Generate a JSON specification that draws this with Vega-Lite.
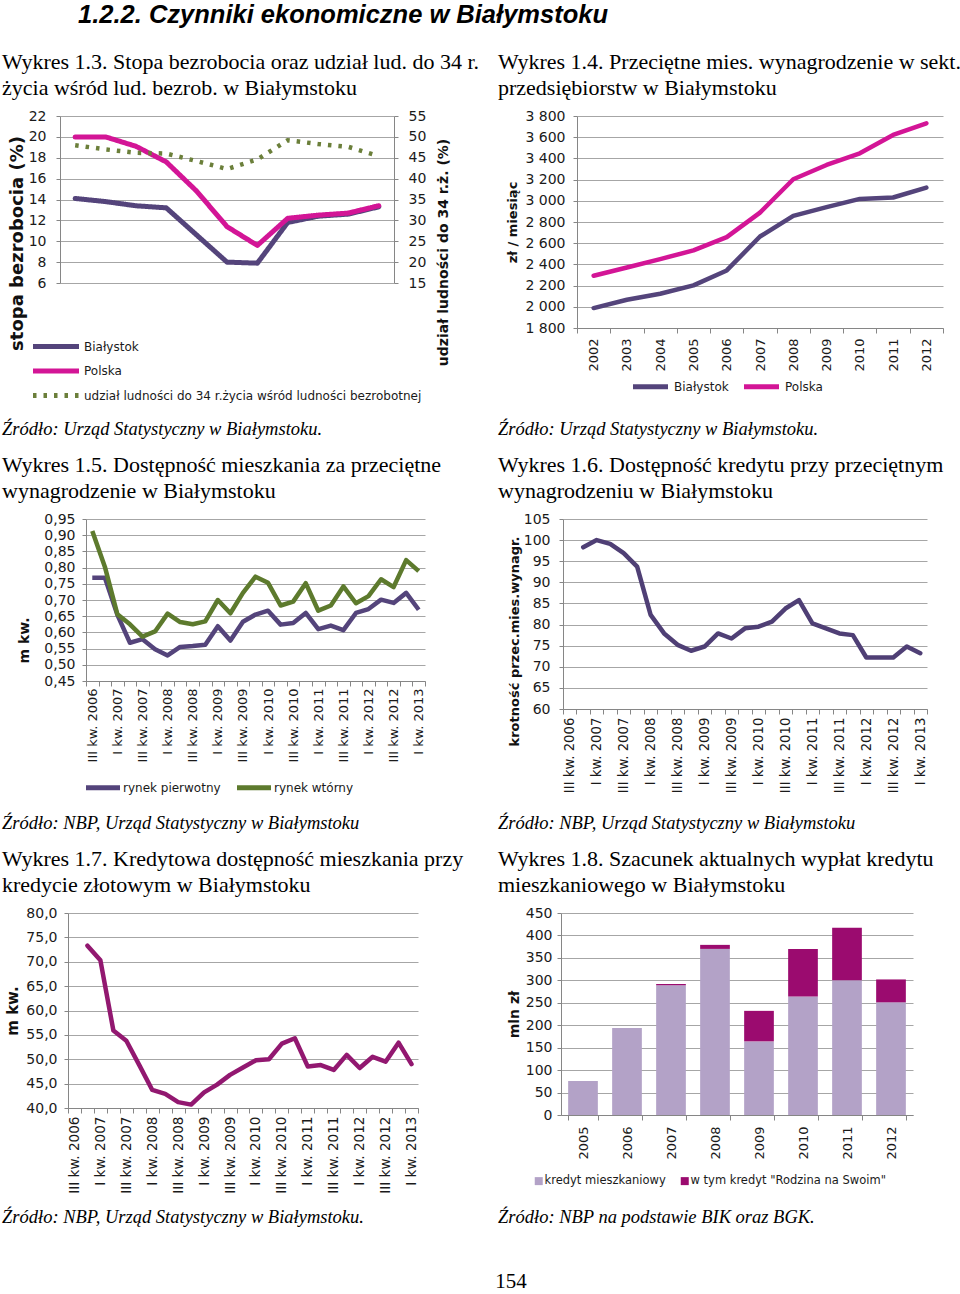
{
 "$schema": "https://vega.github.io/schema/vega-lite/v6.json",
 "background": "white",
 "padding": {"left": 2, "top": 2, "right": 0, "bottom": 0},
 "title": {"text": "1.2.2.  Czynniki ekonomiczne w Białymstoku", "font": "Liberation Sans", "fontSize": 25.5, "fontWeight": "bold", "fontStyle": "italic", "anchor": "start", "frame": "bounds", "dx": 76, "offset": 23, "color": "#000000"},
 "config": {
  "locale": {"number": {"decimal": ",", "thousands": " ", "grouping": [3], "currency": ["", " zł"]}},
  "view": {"stroke": null},
  "font": "DejaVu Sans",
  "axis": {"labelFont": "DejaVu Sans", "labelFontSize": 14, "labelColor": "#1a1a1a", "domainColor": "#868686", "tickColor": "#868686", "gridColor": "#a6a6a6", "gridWidth": 1, "titleFont": "DejaVu Sans", "titleFontWeight": "bold", "titleColor": "#111111", "titleFontSize": 13, "tickSize": 4},
  "axisX": {"labelAngle": -90, "labelFontSize": 13, "tickBand": "extent", "grid": false, "tickSize": 5},
  "axisY": {"grid": true},
  "legend": {"labelFont": "DejaVu Sans", "labelFontSize": 12, "labelColor": "#1a1a1a", "orient": "none", "padding": 0, "labelLimit": 400},
  "title": {"font": "Liberation Serif", "fontSize": 22, "fontWeight": "normal", "anchor": "start", "frame": "group", "color": "#000000", "lineHeight": 26, "subtitleFont": "Liberation Serif", "subtitleFontSize": 22, "subtitleColor": "#000000", "subtitleLineHeight": 26, "subtitlePadding": 17}
 },
 "datasets": {
  "d13": [
   {"rok": "2002", "seria": "Białystok", "v": 14.1}, {"rok": "2003", "seria": "Białystok", "v": 13.8}, {"rok": "2004", "seria": "Białystok", "v": 13.4}, {"rok": "2005", "seria": "Białystok", "v": 13.2}, {"rok": "2006", "seria": "Białystok", "v": 10.6}, {"rok": "2007", "seria": "Białystok", "v": 8.0}, {"rok": "2008", "seria": "Białystok", "v": 7.9}, {"rok": "2009", "seria": "Białystok", "v": 11.8}, {"rok": "2010", "seria": "Białystok", "v": 12.4}, {"rok": "2011", "seria": "Białystok", "v": 12.6}, {"rok": "2012", "seria": "Białystok", "v": 13.3},
   {"rok": "2002", "seria": "Polska", "v": 20.0}, {"rok": "2003", "seria": "Polska", "v": 20.0}, {"rok": "2004", "seria": "Polska", "v": 19.1}, {"rok": "2005", "seria": "Polska", "v": 17.6}, {"rok": "2006", "seria": "Polska", "v": 14.8}, {"rok": "2007", "seria": "Polska", "v": 11.4}, {"rok": "2008", "seria": "Polska", "v": 9.6}, {"rok": "2009", "seria": "Polska", "v": 12.2}, {"rok": "2010", "seria": "Polska", "v": 12.5}, {"rok": "2011", "seria": "Polska", "v": 12.7}, {"rok": "2012", "seria": "Polska", "v": 13.4}
  ],
  "d13u": [
   {"rok": "2002", "seria": "udział ludności do 34 r.życia wśród ludności bezrobotnej", "v": 48.0}, {"rok": "2003", "seria": "udział ludności do 34 r.życia wśród ludności bezrobotnej", "v": 47.0}, {"rok": "2004", "seria": "udział ludności do 34 r.życia wśród ludności bezrobotnej", "v": 46.2}, {"rok": "2005", "seria": "udział ludności do 34 r.życia wśród ludności bezrobotnej", "v": 46.0}, {"rok": "2006", "seria": "udział ludności do 34 r.życia wśród ludności bezrobotnej", "v": 44.2}, {"rok": "2007", "seria": "udział ludności do 34 r.życia wśród ludności bezrobotnej", "v": 42.3}, {"rok": "2008", "seria": "udział ludności do 34 r.życia wśród ludności bezrobotnej", "v": 44.6}, {"rok": "2009", "seria": "udział ludności do 34 r.życia wśród ludności bezrobotnej", "v": 49.2}, {"rok": "2010", "seria": "udział ludności do 34 r.życia wśród ludności bezrobotnej", "v": 48.3}, {"rok": "2011", "seria": "udział ludności do 34 r.życia wśród ludności bezrobotnej", "v": 47.6}, {"rok": "2012", "seria": "udział ludności do 34 r.życia wśród ludności bezrobotnej", "v": 45.4}
  ],
  "d14": [
   {"rok": "2002", "seria": "Białystok", "v": 1988}, {"rok": "2003", "seria": "Białystok", "v": 2067}, {"rok": "2004", "seria": "Białystok", "v": 2123}, {"rok": "2005", "seria": "Białystok", "v": 2202}, {"rok": "2006", "seria": "Białystok", "v": 2343}, {"rok": "2007", "seria": "Białystok", "v": 2663}, {"rok": "2008", "seria": "Białystok", "v": 2858}, {"rok": "2009", "seria": "Białystok", "v": 2940}, {"rok": "2010", "seria": "Białystok", "v": 3018}, {"rok": "2011", "seria": "Białystok", "v": 3031}, {"rok": "2012", "seria": "Białystok", "v": 3125},
   {"rok": "2002", "seria": "Polska", "v": 2293}, {"rok": "2003", "seria": "Polska", "v": 2371}, {"rok": "2004", "seria": "Polska", "v": 2450}, {"rok": "2005", "seria": "Polska", "v": 2532}, {"rok": "2006", "seria": "Polska", "v": 2657}, {"rok": "2007", "seria": "Polska", "v": 2889}, {"rok": "2008", "seria": "Polska", "v": 3203}, {"rok": "2009", "seria": "Polska", "v": 3338}, {"rok": "2010", "seria": "Polska", "v": 3448}, {"rok": "2011", "seria": "Polska", "v": 3621}, {"rok": "2012", "seria": "Polska", "v": 3731}
  ],
  "d15": [
   {"q": "III kw. 2006", "seria": "rynek pierwotny", "v": 0.769}, {"q": "IV kw. 2006", "seria": "rynek pierwotny", "v": 0.769}, {"q": "I kw. 2007", "seria": "rynek pierwotny", "v": 0.654}, {"q": "II kw. 2007", "seria": "rynek pierwotny", "v": 0.568}, {"q": "III kw. 2007", "seria": "rynek pierwotny", "v": 0.579}, {"q": "IV kw. 2007", "seria": "rynek pierwotny", "v": 0.548}, {"q": "I kw. 2008", "seria": "rynek pierwotny", "v": 0.529}, {"q": "II kw. 2008", "seria": "rynek pierwotny", "v": 0.555}, {"q": "III kw. 2008", "seria": "rynek pierwotny", "v": 0.558}, {"q": "IV kw. 2008", "seria": "rynek pierwotny", "v": 0.562}, {"q": "I kw. 2009", "seria": "rynek pierwotny", "v": 0.619}, {"q": "II kw. 2009", "seria": "rynek pierwotny", "v": 0.575}, {"q": "III kw. 2009", "seria": "rynek pierwotny", "v": 0.633}, {"q": "IV kw. 2009", "seria": "rynek pierwotny", "v": 0.655}, {"q": "I kw. 2010", "seria": "rynek pierwotny", "v": 0.667}, {"q": "II kw. 2010", "seria": "rynek pierwotny", "v": 0.624}, {"q": "III kw. 2010", "seria": "rynek pierwotny", "v": 0.629}, {"q": "IV kw. 2010", "seria": "rynek pierwotny", "v": 0.660}, {"q": "I kw. 2011", "seria": "rynek pierwotny", "v": 0.610}, {"q": "II kw. 2011", "seria": "rynek pierwotny", "v": 0.621}, {"q": "III kw. 2011", "seria": "rynek pierwotny", "v": 0.607}, {"q": "IV kw. 2011", "seria": "rynek pierwotny", "v": 0.660}, {"q": "I kw. 2012", "seria": "rynek pierwotny", "v": 0.672}, {"q": "II kw. 2012", "seria": "rynek pierwotny", "v": 0.701}, {"q": "III kw. 2012", "seria": "rynek pierwotny", "v": 0.691}, {"q": "IV kw. 2012", "seria": "rynek pierwotny", "v": 0.722}, {"q": "I kw. 2013", "seria": "rynek pierwotny", "v": 0.670},
   {"q": "III kw. 2006", "seria": "rynek wtórny", "v": 0.913}, {"q": "IV kw. 2006", "seria": "rynek wtórny", "v": 0.803}, {"q": "I kw. 2007", "seria": "rynek wtórny", "v": 0.656}, {"q": "II kw. 2007", "seria": "rynek wtórny", "v": 0.625}, {"q": "III kw. 2007", "seria": "rynek wtórny", "v": 0.587}, {"q": "IV kw. 2007", "seria": "rynek wtórny", "v": 0.603}, {"q": "I kw. 2008", "seria": "rynek wtórny", "v": 0.658}, {"q": "II kw. 2008", "seria": "rynek wtórny", "v": 0.632}, {"q": "III kw. 2008", "seria": "rynek wtórny", "v": 0.625}, {"q": "IV kw. 2008", "seria": "rynek wtórny", "v": 0.634}, {"q": "I kw. 2009", "seria": "rynek wtórny", "v": 0.700}, {"q": "II kw. 2009", "seria": "rynek wtórny", "v": 0.659}, {"q": "III kw. 2009", "seria": "rynek wtórny", "v": 0.722}, {"q": "IV kw. 2009", "seria": "rynek wtórny", "v": 0.772}, {"q": "I kw. 2010", "seria": "rynek wtórny", "v": 0.753}, {"q": "II kw. 2010", "seria": "rynek wtórny", "v": 0.683}, {"q": "III kw. 2010", "seria": "rynek wtórny", "v": 0.695}, {"q": "IV kw. 2010", "seria": "rynek wtórny", "v": 0.752}, {"q": "I kw. 2011", "seria": "rynek wtórny", "v": 0.667}, {"q": "II kw. 2011", "seria": "rynek wtórny", "v": 0.683}, {"q": "III kw. 2011", "seria": "rynek wtórny", "v": 0.742}, {"q": "IV kw. 2011", "seria": "rynek wtórny", "v": 0.690}, {"q": "I kw. 2012", "seria": "rynek wtórny", "v": 0.712}, {"q": "II kw. 2012", "seria": "rynek wtórny", "v": 0.764}, {"q": "III kw. 2012", "seria": "rynek wtórny", "v": 0.740}, {"q": "IV kw. 2012", "seria": "rynek wtórny", "v": 0.823}, {"q": "I kw. 2013", "seria": "rynek wtórny", "v": 0.789}
  ],
  "d16": [
   {"q": "IV kw. 2006", "v": 98.3}, {"q": "I kw. 2007", "v": 100.0}, {"q": "II kw. 2007", "v": 99.1}, {"q": "III kw. 2007", "v": 96.9}, {"q": "IV kw. 2007", "v": 93.7}, {"q": "I kw. 2008", "v": 82.3}, {"q": "II kw. 2008", "v": 77.9}, {"q": "III kw. 2008", "v": 75.2}, {"q": "IV kw. 2008", "v": 73.8}, {"q": "I kw. 2009", "v": 74.8}, {"q": "II kw. 2009", "v": 77.9}, {"q": "III kw. 2009", "v": 76.7}, {"q": "IV kw. 2009", "v": 79.1}, {"q": "I kw. 2010", "v": 79.5}, {"q": "II kw. 2010", "v": 80.7}, {"q": "III kw. 2010", "v": 83.8}, {"q": "IV kw. 2010", "v": 85.8}, {"q": "I kw. 2011", "v": 80.3}, {"q": "II kw. 2011", "v": 79.1}, {"q": "III kw. 2011", "v": 77.9}, {"q": "IV kw. 2011", "v": 77.5}, {"q": "I kw. 2012", "v": 72.2}, {"q": "II kw. 2012", "v": 72.2}, {"q": "III kw. 2012", "v": 72.2}, {"q": "IV kw. 2012", "v": 74.8}, {"q": "I kw. 2013", "v": 73.2}
  ],
  "d17": [
   {"q": "IV kw. 2006", "v": 73.3}, {"q": "I kw. 2007", "v": 70.3}, {"q": "II kw. 2007", "v": 55.9}, {"q": "III kw. 2007", "v": 53.8}, {"q": "IV kw. 2007", "v": 48.8}, {"q": "I kw. 2008", "v": 43.7}, {"q": "II kw. 2008", "v": 42.9}, {"q": "III kw. 2008", "v": 41.2}, {"q": "IV kw. 2008", "v": 40.7}, {"q": "I kw. 2009", "v": 43.2}, {"q": "II kw. 2009", "v": 44.8}, {"q": "III kw. 2009", "v": 46.8}, {"q": "IV kw. 2009", "v": 48.3}, {"q": "I kw. 2010", "v": 49.8}, {"q": "II kw. 2010", "v": 50.0}, {"q": "III kw. 2010", "v": 53.2}, {"q": "IV kw. 2010", "v": 54.3}, {"q": "I kw. 2011", "v": 48.5}, {"q": "II kw. 2011", "v": 48.8}, {"q": "III kw. 2011", "v": 47.8}, {"q": "IV kw. 2011", "v": 50.9}, {"q": "I kw. 2012", "v": 48.2}, {"q": "II kw. 2012", "v": 50.5}, {"q": "III kw. 2012", "v": 49.5}, {"q": "IV kw. 2012", "v": 53.4}, {"q": "I kw. 2013", "v": 49.0}
  ],
  "d18": [
   {"rok": "2005", "seria": "kredyt mieszkaniowy", "v": 76}, {"rok": "2006", "seria": "kredyt mieszkaniowy", "v": 194}, {"rok": "2007", "seria": "kredyt mieszkaniowy", "v": 289}, {"rok": "2008", "seria": "kredyt mieszkaniowy", "v": 370}, {"rok": "2009", "seria": "kredyt mieszkaniowy", "v": 164}, {"rok": "2010", "seria": "kredyt mieszkaniowy", "v": 264}, {"rok": "2011", "seria": "kredyt mieszkaniowy", "v": 300}, {"rok": "2012", "seria": "kredyt mieszkaniowy", "v": 251},
   {"rok": "2007", "seria": "w tym kredyt \"Rodzina na Swoim\"", "v": 3}, {"rok": "2008", "seria": "w tym kredyt \"Rodzina na Swoim\"", "v": 9}, {"rok": "2009", "seria": "w tym kredyt \"Rodzina na Swoim\"", "v": 68}, {"rok": "2010", "seria": "w tym kredyt \"Rodzina na Swoim\"", "v": 106}, {"rok": "2011", "seria": "w tym kredyt \"Rodzina na Swoim\"", "v": 117}, {"rok": "2012", "seria": "w tym kredyt \"Rodzina na Swoim\"", "v": 51}
  ]
 },
 "vconcat": [
  {
   "hconcat": [
    {"width": 58, "height": 1, "data": {"values": []}, "mark": "rule", "encoding": {}},
    {
     "width": 334, "height": 167,
     "title": {"text": ["Wykres 1.3. Stopa bezrobocia oraz udział lud. do 34 r.", "życia wśród lud. bezrob. w Białymstoku"], "dx": -58, "offset": 9},
     "layer": [
      {
       "data": {"name": "d13"},
       "mark": {"type": "line", "strokeWidth": 5, "strokeJoin": "round", "strokeCap": "round"},
       "encoding": {
        "x": {"field": "rok", "type": "ordinal", "bandPosition": 0.5, "scale": {"type": "band", "paddingInner": 0, "paddingOuter": 0}, "axis": {"title": null, "labelPadding": 4}},
        "y": {"field": "v", "type": "quantitative", "scale": {"domain": [6, 22], "nice": false, "zero": false}, "axis": {"values": [6, 8, 10, 12, 14, 16, 18, 20, 22], "title": "stopa  bezrobocia (%)", "titleFontSize": 18, "titleY": 127, "titlePadding": 2, "labelPadding": 10}},
        "color": {"field": "seria", "type": "nominal", "scale": {"domain": ["Białystok", "Polska", "udział ludności do 34 r.życia wśród ludności bezrobotnej"], "range": ["#54447b", "#d31596", "#6b7f3a"]}, "legend": {"title": null, "orient": "none", "legendX": 2, "legendY": 222, "direction": "vertical", "symbolType": "M-6.25,0H1.417", "symbolSize": 144, "symbolStrokeWidth": 5, "labelOffset": 5, "rowPadding": 3.5}},
        "strokeDash": {"field": "seria", "type": "nominal", "scale": {"domain": ["Białystok", "Polska", "udział ludności do 34 r.życia wśród ludności bezrobotnej"], "range": [[1, 0], [1, 0], [3.5, 7]]}, "legend": {"title": null, "orient": "none", "legendX": 2, "legendY": 222, "direction": "vertical", "symbolType": "M-6.25,0H1.417", "symbolSize": 144, "symbolStrokeWidth": 5, "labelOffset": 5, "rowPadding": 3.5}}
       }
      },
      {
       "data": {"name": "d13u"},
       "mark": {"type": "line", "strokeWidth": 4.5},
       "encoding": {
        "x": {"field": "rok", "type": "ordinal", "bandPosition": 0.5, "axis": null},
        "y": {"field": "v", "type": "quantitative", "scale": {"domain": [15, 55], "nice": false, "zero": false}, "axis": {"orient": "right", "grid": false, "values": [15, 20, 25, 30, 35, 40, 45, 50, 55], "title": "udział ludności do 34 r.ż. (%)", "titleFontSize": 14, "titleAngle": 270, "titleBaseline": "top", "titleY": 136, "titlePadding": 11, "labelPadding": 10}},
        "color": {"field": "seria", "type": "nominal", "scale": {"domain": ["Białystok", "Polska", "udział ludności do 34 r.życia wśród ludności bezrobotnej"], "range": ["#54447b", "#d31596", "#6b7f3a"]}, "legend": {"title": null, "orient": "none", "legendX": 2, "legendY": 222, "direction": "vertical", "symbolType": "M-6.25,0H1.417", "symbolSize": 144, "symbolStrokeWidth": 5, "labelOffset": 5, "rowPadding": 3.5}},
        "strokeDash": {"field": "seria", "type": "nominal", "scale": {"domain": ["Białystok", "Polska", "udział ludności do 34 r.życia wśród ludności bezrobotnej"], "range": [[1, 0], [1, 0], [3.5, 7]]}, "legend": {"title": null, "orient": "none", "legendX": 2, "legendY": 222, "direction": "vertical", "symbolType": "M-6.25,0H1.417", "symbolSize": 144, "symbolStrokeWidth": 5, "labelOffset": 5, "rowPadding": 3.5}}
       }
      }
     ],
     "resolve": {"scale": {"y": "independent"}}
    },
    {"width": 183, "height": 1, "data": {"values": []}, "mark": "rule", "encoding": {}},
    {
     "width": 366, "height": 212,
     "title": {"text": ["Wykres 1.4. Przeciętne mies. wynagrodzenie w sekt.", "przedsiębiorstw w Białymstoku"], "dx": -79, "offset": 9},
     "data": {"name": "d14"},
     "mark": {"type": "line", "strokeWidth": 4.5, "strokeJoin": "round", "strokeCap": "round"},
     "encoding": {
      "x": {"field": "rok", "type": "ordinal", "bandPosition": 0.5, "scale": {"type": "band", "paddingInner": 0, "paddingOuter": 0}, "axis": {"title": null, "labelPadding": 5}},
      "y": {"field": "v", "type": "quantitative", "scale": {"domain": [1800, 3800], "nice": false, "zero": false}, "axis": {"values": [1800, 2000, 2200, 2400, 2600, 2800, 3000, 3200, 3400, 3600, 3800], "format": ",d", "title": "zł / miesiąc", "titleFontSize": 13, "titlePadding": 5, "labelPadding": 8}},
      "color": {"field": "seria", "type": "nominal", "scale": {"domain": ["Białystok", "Polska"], "range": ["#54447b", "#d31596"]}, "legend": {"title": null, "orient": "none", "legendX": 74, "legendY": 262, "direction": "horizontal", "symbolType": "M-4.417,0H1.417", "symbolSize": 144, "symbolStrokeWidth": 5, "labelOffset": 6, "columnPadding": 4}}
     }
    }
   ],
   "spacing": 0,
   "bounds": "flush",
   "resolve": {"scale": {"color": "independent", "strokeDash": "independent", "x": "independent", "y": "independent"}, "legend": {"color": "independent", "strokeDash": "independent"}}
  },
  {
   "hconcat": [
    {"width": 84, "height": 1, "data": {"values": []}, "mark": "rule", "encoding": {}},
    {
     "width": 339, "height": 162,
     "title": {"text": "Źródło: Urząd Statystyczny w Białymstoku.", "fontStyle": "italic", "fontSize": 18.5, "subtitle": ["Wykres 1.5. Dostępność mieszkania za przeciętne", "wynagrodzenie w Białymstoku"], "dx": -84, "offset": 10},
     "data": {"name": "d15"},
     "mark": {"type": "line", "strokeWidth": 4.5, "strokeJoin": "round"},
     "encoding": {
      "x": {"field": "q", "type": "ordinal", "bandPosition": 0.5, "sort": null, "scale": {"type": "band", "domain": ["III kw. 2006", "IV kw. 2006", "I kw. 2007", "II kw. 2007", "III kw. 2007", "IV kw. 2007", "I kw. 2008", "II kw. 2008", "III kw. 2008", "IV kw. 2008", "I kw. 2009", "II kw. 2009", "III kw. 2009", "IV kw. 2009", "I kw. 2010", "II kw. 2010", "III kw. 2010", "IV kw. 2010", "I kw. 2011", "II kw. 2011", "III kw. 2011", "IV kw. 2011", "I kw. 2012", "II kw. 2012", "III kw. 2012", "IV kw. 2012", "I kw. 2013"], "paddingInner": 0, "paddingOuter": 0}, "axis": {"title": null, "labelPadding": 2, "labelFontSize": 13, "labelExpr": "indexof(datum.label, 'IV') === 0 || indexof(datum.label, 'II kw') === 0 ? '' : datum.label"}},
      "y": {"field": "v", "type": "quantitative", "scale": {"domain": [0.45, 0.95], "nice": false, "zero": false}, "axis": {"values": [0.45, 0.5, 0.55, 0.6, 0.65, 0.7, 0.75, 0.8, 0.85, 0.9, 0.95], "format": ".2f", "title": "m kw.", "titleFontSize": 14, "titleY": 121, "titlePadding": 12, "labelPadding": 7}},
      "color": {"field": "seria", "type": "nominal", "scale": {"domain": ["rynek pierwotny", "rynek wtórny"], "range": ["#54447b", "#5d7a2d"]}, "legend": {"title": null, "orient": "none", "legendX": 15.5, "legendY": 258.5, "padding": 1.5, "direction": "horizontal", "symbolType": "M-4.25,0H1.417", "symbolSize": 144, "symbolStrokeWidth": 5, "labelOffset": 3, "columnPadding": 6}}
     }
    },
    {"width": 138, "height": 1, "data": {"values": []}, "mark": "rule", "encoding": {}},
    {
     "width": 364, "height": 190,
     "title": {"text": "Źródło: Urząd Statystyczny w Białymstoku.", "fontStyle": "italic", "fontSize": 18.5, "subtitle": ["Wykres 1.6. Dostępność kredytu przy przeciętnym", "wynagrodzeniu w Białymstoku"], "dx": -65, "offset": 10},
     "data": {"name": "d16"},
     "mark": {"type": "line", "strokeWidth": 4.5, "strokeJoin": "round", "strokeCap": "round", "color": "#4f3f75"},
     "encoding": {
      "x": {"field": "q", "type": "ordinal", "bandPosition": 0.5, "sort": null, "scale": {"type": "band", "domain": ["III kw. 2006", "IV kw. 2006", "I kw. 2007", "II kw. 2007", "III kw. 2007", "IV kw. 2007", "I kw. 2008", "II kw. 2008", "III kw. 2008", "IV kw. 2008", "I kw. 2009", "II kw. 2009", "III kw. 2009", "IV kw. 2009", "I kw. 2010", "II kw. 2010", "III kw. 2010", "IV kw. 2010", "I kw. 2011", "II kw. 2011", "III kw. 2011", "IV kw. 2011", "I kw. 2012", "II kw. 2012", "III kw. 2012", "IV kw. 2012", "I kw. 2013"], "paddingInner": 0, "paddingOuter": 0}, "axis": {"title": null, "labelPadding": 3, "labelFontSize": 13.3, "labelExpr": "indexof(datum.label, 'IV') === 0 || indexof(datum.label, 'II kw') === 0 ? '' : datum.label"}},
      "y": {"field": "v", "type": "quantitative", "scale": {"domain": [60, 105], "nice": false, "zero": false}, "axis": {"values": [60, 65, 70, 75, 80, 85, 90, 95, 100, 105], "title": "krotność przec.mies.wynagr.", "titleFontSize": 13, "titleY": 122, "titlePadding": 2, "labelPadding": 9}}
     }
    }
   ],
   "spacing": 0,
   "bounds": "flush",
   "resolve": {"scale": {"color": "independent", "x": "independent", "y": "independent"}, "legend": {"color": "independent"}}
  },
  {
   "hconcat": [
    {"width": 66, "height": 1, "data": {"values": []}, "mark": "rule", "encoding": {}},
    {
     "width": 350, "height": 195,
     "title": {"text": "Źródło: NBP, Urząd Statystyczny w Białymstoku", "fontStyle": "italic", "fontSize": 18.5, "subtitle": ["Wykres 1.7. Kredytowa dostępność mieszkania przy", "kredycie złotowym w Białymstoku"], "dx": -66, "offset": 10},
     "data": {"name": "d17"},
     "mark": {"type": "line", "strokeWidth": 4.5, "strokeJoin": "round", "strokeCap": "round", "color": "#921870"},
     "encoding": {
      "x": {"field": "q", "type": "ordinal", "bandPosition": 0.5, "sort": null, "scale": {"type": "band", "domain": ["III kw. 2006", "IV kw. 2006", "I kw. 2007", "II kw. 2007", "III kw. 2007", "IV kw. 2007", "I kw. 2008", "II kw. 2008", "III kw. 2008", "IV kw. 2008", "I kw. 2009", "II kw. 2009", "III kw. 2009", "IV kw. 2009", "I kw. 2010", "II kw. 2010", "III kw. 2010", "IV kw. 2010", "I kw. 2011", "II kw. 2011", "III kw. 2011", "IV kw. 2011", "I kw. 2012", "II kw. 2012", "III kw. 2012", "IV kw. 2012", "I kw. 2013"], "paddingInner": 0, "paddingOuter": 0}, "axis": {"title": null, "labelPadding": 3, "labelFontSize": 13.6, "labelExpr": "indexof(datum.label, 'IV') === 0 || indexof(datum.label, 'II kw') === 0 ? '' : datum.label"}},
      "y": {"field": "v", "type": "quantitative", "scale": {"domain": [40, 80], "nice": false, "zero": false}, "axis": {"values": [40, 45, 50, 55, 60, 65, 70, 75, 80], "format": ".1f", "title": "m kw.", "titleFontSize": 15, "titlePadding": 5, "labelPadding": 7}}
     }
    },
    {"width": 143, "height": 1, "data": {"values": []}, "mark": "rule", "encoding": {}},
    {
     "width": 352, "height": 202,
     "title": {"text": "Źródło: NBP, Urząd Statystyczny w Białymstoku", "fontStyle": "italic", "fontSize": 18.5, "subtitle": ["Wykres 1.8. Szacunek aktualnych wypłat kredytu", "mieszkaniowego w Białymstoku"], "dx": -63, "offset": 10},
     "data": {"name": "d18"},
     "mark": {"type": "bar"},
     "encoding": {
      "x": {"field": "rok", "type": "ordinal", "scale": {"type": "band", "paddingInner": 0.325, "paddingOuter": 0.1625}, "axis": {"title": null, "labelPadding": 6}},
      "y": {"field": "v", "type": "quantitative", "stack": "zero", "scale": {"domain": [0, 450], "nice": false}, "axis": {"values": [0, 50, 100, 150, 200, 250, 300, 350, 400, 450], "title": "mln zł", "titleFontSize": 14, "titlePadding": 4, "labelPadding": 5}},
      "color": {"field": "seria", "type": "nominal", "scale": {"domain": ["kredyt mieszkaniowy", "w tym kredyt \"Rodzina na Swoim\""], "range": ["#b3a2c7", "#9b0b6f"]}, "legend": {"title": null, "orient": "none", "legendX": -28, "legendY": 262, "direction": "horizontal", "symbolType": "square", "symbolSize": 64, "symbolStrokeWidth": 0, "labelOffset": 0, "columnPadding": 13, "labelFontSize": 11.5}},
      "order": {"field": "seria", "sort": "ascending"}
     }
    }
   ],
   "spacing": 0,
   "bounds": "flush",
   "resolve": {"scale": {"color": "independent", "x": "independent", "y": "independent"}, "legend": {"color": "independent"}}
  },
  {
   "hconcat": [
    {"width": 460, "height": 1, "data": {"values": []}, "mark": "rule", "encoding": {}, "title": {"text": "Źródło: NBP, Urząd Statystyczny w Białymstoku.", "fontStyle": "italic", "fontSize": 18.5, "offset": 0}},
    {"width": 36, "height": 1, "data": {"values": []}, "mark": "rule", "encoding": {}},
    {"width": 460, "height": 1, "data": {"values": []}, "mark": "rule", "encoding": {}, "title": {"text": "Źródło: NBP na podstawie BIK oraz BGK.", "fontStyle": "italic", "fontSize": 18.5, "offset": 0}}
   ],
   "spacing": 0,
   "bounds": "flush",
   "title": {"text": "154", "orient": "bottom", "anchor": "middle", "frame": "bounds", "font": "Liberation Serif", "fontSize": 21, "dx": 31, "offset": 44}
  }
 ],
 "spacing": 13,
 "resolve": {"scale": {"color": "independent", "strokeDash": "independent", "x": "independent", "y": "independent"}, "legend": {"color": "independent", "strokeDash": "independent"}}
}
